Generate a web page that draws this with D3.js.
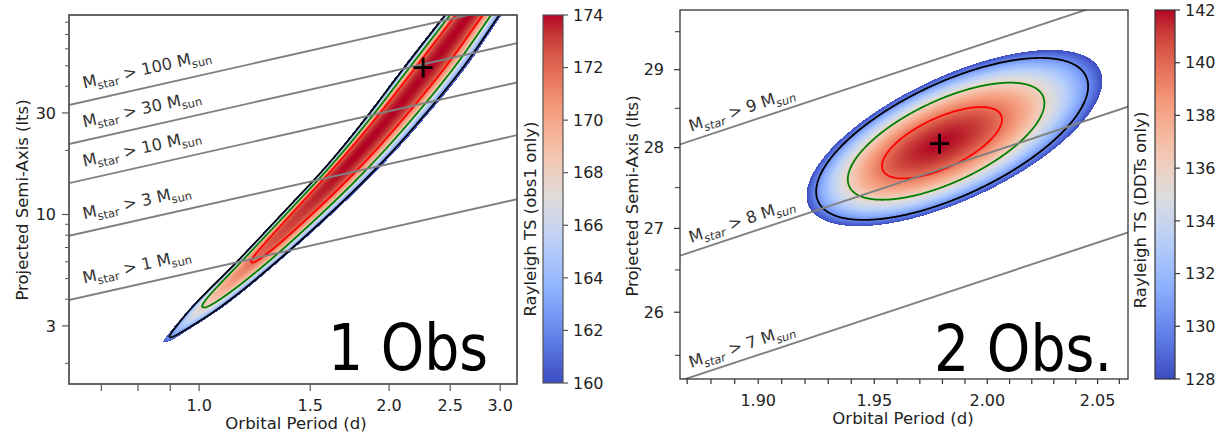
<!DOCTYPE html>
<html>
<head>
<meta charset="utf-8">
<script src="https://cdn.jsdelivr.net/npm/d3@7"></script>
<style>
  body { margin: 0; background: #fff; }
  svg { display: block; }
  text { font-family: "DejaVu Sans", sans-serif; }
</style>
</head>
<body>
<svg id="chart" width="1216" height="437"></svg>
<script>
// ---------------- single observation (obs1) ----------------
const obs1PeriodRange = [0.622, 3.19];
const obs1AxisRange = [1.6, 86.5];
const obs1PeriodTicks = [1.0, 1.5, 2.0, 2.5, 3.0];
const obs1PeriodMinor = [0.7, 0.8, 0.9];
const obs1AxisTicks = [3, 10, 30];
const obs1AxisMinor = [2, 4, 5, 6, 7, 8, 9, 20, 40, 50, 60, 70, 80];
const obs1ColorTicks = [160, 162, 164, 166, 168, 170, 172, 174];
const obs1Best = { period: 2.265, axis: 49.0, ts: 174 };
// ridge of the likelihood band: semi-axis, period on the ridge,
// widths (dex in period, below / above the ridge) and TS drop on the ridge
const obs1RidgeAxis   = [86.9, 49.0, 27.9, 17.2, 10.6, 5.95, 3.66, 2.65, 2.48];
const obs1RidgePeriod = [2.689, 2.329, 1.995, 1.727, 1.479, 1.217, 1.020, 0.9013, 0.8777];
const obs1RidgeSigLo  = [0.01710, 0.01841, 0.01644, 0.01447, 0.01401, 0.01256, 0.01119, 0.00612, 0.0048];
const obs1RidgeSigHi  = [0.01355, 0.01482, 0.01482, 0.01440, 0.01342, 0.01158, 0.01020, 0.00645, 0.0055];
const obs1RidgeDrop   = [0, 0, 0, 0, 0.6, 2.3, 6.18, 11.83, 14.5];
// minimum companion mass lines: semi-axis at both ends of the period range
const obs1Masses = ["100", "30", "10", "3", "1"];
const obs1MassAxis = [[32.7, 97.3], [21.45, 63.8], [14.04, 41.7], [7.95, 23.6], [3.97, 11.8]];

// ---------------- two observations (DDTs) ----------------
const obs2PeriodRange = [1.867, 2.064];
const obs2AxisRange = [25.23, 29.79];
const obs2PeriodTicks = [1.90, 1.95, 2.00, 2.05];
const obs2PeriodMinor = [1.87, 1.88, 1.89, 1.91, 1.92, 1.93, 1.94, 1.96, 1.97, 1.98, 1.99, 2.01, 2.02, 2.03, 2.04, 2.06];
const obs2AxisTicks = [26, 27, 28, 29];
const obs2AxisMinor = [25.5, 26.5, 27.5, 28.5, 29.5];
const obs2ColorTicks = [128, 130, 132, 134, 136, 138, 140, 142];
const obs2Best = { period: 1.9787, axis: 28.05, ts: 142 };
const obs2Sigma = { logPeriod: 0.003845, logAxis: 0.004605, rho: 0.65 };
const obs2Skew = [0.027, 0.017];
const obs2Masses = ["9", "8", "7"];
const obs2MassAxis = [[28.04, 29.98], [26.67, 28.52], [25.21, 26.95]];

// TS drops drawn as contours (black, green, red) and the lowest TS shown
const contourDrops = [11.83, 6.18, 2.30];
const contourColors = ["#000000", "#008000", "#ff0000"];
const shownDrop = 14;

// matplotlib "coolwarm"
const coolwarmStops = ["#3b4cc0", "#6282ea", "#8db0fe", "#b8d0f9", "#dddcdc", "#f5c4ad", "#f49a7b", "#de604d", "#b40426"];
const coolwarm = d3.scaleLinear()
  .domain(coolwarmStops.map((_, i) => i / (coolwarmStops.length - 1)))
  .range(coolwarmStops)
  .interpolate(d3.interpolateLab)
  .clamp(true);

const svg = d3.select("#chart");
const defs = svg.append("defs");

// cubic Hermite interpolation through (xs, ys) with finite-difference slopes
function hermite(xs, ys) {
  const n = xs.length;
  const m = ys.map((_, k) => {
    if (k === 0) return (ys[1] - ys[0]) / (xs[1] - xs[0]);
    if (k === n - 1) return (ys[n - 1] - ys[n - 2]) / (xs[n - 1] - xs[n - 2]);
    return (ys[k + 1] - ys[k - 1]) / (xs[k + 1] - xs[k - 1]);
  });
  return v => {
    if (v <= xs[0]) return ys[0];
    if (v >= xs[n - 1]) return ys[n - 1];
    let k = 0;
    while (xs[k + 1] < v) k++;
    const h = xs[k + 1] - xs[k], t = (v - xs[k]) / h;
    const t2 = t * t, t3 = t2 * t;
    return (2 * t3 - 3 * t2 + 1) * ys[k] + (t3 - 2 * t2 + t) * h * m[k]
         + (-2 * t3 + 3 * t2) * ys[k + 1] + (t3 - t2) * h * m[k + 1];
  };
}

// TS drop across the band: steep (cubic) on the short-period side,
// quadratic on the long-period side, plus the drop along the ridge
function bandField(x, y) {
  const ry = obs1RidgeAxis.map(a => y(a));
  const rx = obs1RidgePeriod.map(p => x(p));
  const rl = obs1RidgePeriod.map((p, k) => x(p) - x(p * Math.pow(10, -obs1RidgeSigLo[k])));
  const rr = obs1RidgePeriod.map((p, k) => x(p * Math.pow(10, obs1RidgeSigHi[k])) - x(p));
  const fx = hermite(ry, rx), fl = hermite(ry, rl), fr = hermite(ry, rr), fh = hermite(ry, obs1RidgeDrop);
  const yEnd = ry[ry.length - 1];
  return (px, py) => {
    if (py >= yEnd) return 99;
    const xc = fx(py);
    if (px < xc) {
      const d = (xc - px) / fl(py);
      return d * d * d + fh(py);
    }
    const d = (px - xc) / fr(py);
    return d * d + fh(py);
  };
}

function ellipseField(x, y) {
  const lp0 = Math.log10(obs2Best.period), la0 = Math.log10(obs2Best.axis);
  const { logPeriod: su, logAxis: sv, rho } = obs2Sigma;
  const q = (u, v) => (u * u - 2 * rho * u * v + v * v) / (1 - rho * rho);
  return (px, py) => {
    const U = (Math.log10(x.invert(px)) - lp0) / su;
    const V = (Math.log10(y.invert(py)) - la0) / sv;
    const f = D => q(U - D * obs2Skew[0], V - D * obs2Skew[1]) - D;
    let lo = 0, hi = 40;
    if (f(hi) > 0) return hi;
    for (let it = 0; it < 32; it++) {
      const mid = (lo + hi) / 2;
      if (f(mid) > 0) lo = mid; else hi = mid;
    }
    return (lo + hi) / 2;
  };
}

function drawPanel(c) {
  const [L, T, R, B] = c.box;
  const x = d3.scaleLog().domain(c.periodRange).range([L, R]);
  const y = d3.scaleLog().domain(c.axisRange).range([B, T]);
  const tsMin = c.tsMax - shownDrop;

  defs.append("clipPath").attr("id", c.id + "-clip")
    .append("rect").attr("x", L).attr("y", T).attr("width", R - L).attr("height", B - T);
  const plot = svg.append("g").attr("clip-path", `url(#${c.id}-clip)`);

  // TS surface sampled on the pixel grid, with a margin round the axes
  const m = 4, gw = R - L + 2 * m, gh = B - T + 2 * m;
  const field = c.field(x, y);
  const ts = new Array(gw * gh);
  const canvas = document.createElement("canvas");
  canvas.width = gw; canvas.height = gh;
  const ctx = canvas.getContext("2d");
  const img = ctx.createImageData(gw, gh);
  for (let j = 0; j < gh; j++) {
    const py = T - m + j + 0.5;
    for (let i = 0; i < gw; i++) {
      const px = L - m + i + 0.5;
      const drop = field(px, py);
      const v = c.tsMax - drop;
      const idx = j * gw + i;
      ts[idx] = v;
      if (drop <= shownDrop) {
        const col = d3.rgb(coolwarm((v - tsMin) / shownDrop));
        img.data[4 * idx] = col.r;
        img.data[4 * idx + 1] = col.g;
        img.data[4 * idx + 2] = col.b;
        img.data[4 * idx + 3] = 255;
      }
    }
  }
  ctx.putImageData(img, 0, 0);
  plot.append("image")
    .attr("x", L - m).attr("y", T - m).attr("width", gw).attr("height", gh)
    .attr("href", canvas.toDataURL());

  const contours = d3.contours().size([gw, gh])
    .thresholds(contourDrops.map(d => c.tsMax - d))(ts);
  plot.append("g").attr("transform", `translate(${L - m},${T - m})`)
    .selectAll("path").data(contours).join("path")
    .attr("d", d3.geoPath())
    .attr("fill", "none")
    .attr("stroke", (d, i) => contourColors[i])
    .attr("stroke-width", 1.8)
    .attr("stroke-linejoin", "round");

  // companion-mass lines
  const line = d3.line().x(d => x(d[0])).y(d => y(d[1]));
  c.massAxis.forEach(ends => {
    plot.append("path")
      .attr("d", line([[c.periodRange[0], ends[0]], [c.periodRange[1], ends[1]]]))
      .attr("fill", "none").attr("stroke", "#808080").attr("stroke-width", 1.9);
  });

  // line labels
  c.masses.forEach((mass, k) => {
    const ends = c.massAxis[k];
    const x0 = x(c.periodRange[0]), y0 = y(ends[0]);
    const x1 = x(c.periodRange[1]), y1 = y(ends[1]);
    const ang = Math.atan2(y1 - y0, x1 - x0) * 180 / Math.PI;
    const sx = L + c.labelDx;
    const sy = y0 + (y1 - y0) * (sx - x0) / (x1 - x0) - c.labelDy;
    const t = plot.append("text")
      .attr("transform", `translate(${sx},${sy}) rotate(${ang})`)
      .attr("font-size", 16.3).attr("fill", "#333");
    t.append("tspan").text("M");
    t.append("tspan").text("star").attr("font-size", 11.5).attr("dy", 4)
      .attr("font-style", c.italicSub ? "italic" : null);
    t.append("tspan").text(` > ${mass} M`).attr("dy", -4);
    t.append("tspan").text("sun").attr("font-size", 11.5).attr("dy", 4)
      .attr("font-style", c.italicSub ? "italic" : null);
  });

  // best-fit marker
  svg.append("path")
    .attr("transform", `translate(${x(c.best.period)},${y(c.best.axis)})`)
    .attr("d", "M-9.5,0H9.5M0,-10V10")
    .attr("stroke", "#000").attr("stroke-width", 2.8);

  // panel tag
  svg.append("text").attr("x", c.tag.x).attr("y", c.tag.y)
    .attr("font-family", "Lato, 'Open Sans', sans-serif")
    .attr("font-weight", 400).attr("font-size", 64)
    .attr("textLength", c.tag.width).attr("lengthAdjust", "spacingAndGlyphs")
    .attr("fill", "#000").text(c.tag.text);

  // axes
  const ax = svg.append("g").attr("stroke", c.frameColor).attr("fill", "none");
  const xMinor = c.xMinor.concat(c.xTicks);
  ax.selectAll(".xt").data(xMinor).join("line")
    .attr("x1", d => x(d)).attr("x2", d => x(d))
    .attr("y1", B).attr("y2", B + c.xTickLen)
    .attr("stroke-width", 1.2);
  ax.selectAll(".yt").data(c.yTicks).join("line")
    .attr("x1", L).attr("x2", L - c.yTickLen)
    .attr("y1", d => y(d)).attr("y2", d => y(d)).attr("stroke-width", 1.2);
  ax.selectAll(".ym").data(c.yMinor).join("line")
    .attr("x1", L).attr("x2", L - c.yMinorLen)
    .attr("y1", d => y(d)).attr("y2", d => y(d)).attr("stroke-width", 1);
  ax.append("rect").attr("x", L).attr("y", T).attr("width", R - L).attr("height", B - T)
    .attr("stroke-width", c.frameWidth);

  const lab = svg.append("g").attr("fill", "#222").attr("font-size", 16);
  lab.selectAll(".xl").data(c.xTicks).join("text")
    .attr("x", d => x(d)).attr("y", B + 27).attr("text-anchor", "middle")
    .text(d => d3.format(c.xFormat)(d));
  lab.selectAll(".yl").data(c.yTicks).join("text")
    .attr("x", L - c.yLabelGap).attr("y", d => y(d)).attr("dy", "0.36em")
    .attr("text-anchor", "end").text(d => d);
  lab.append("text").attr("x", (L + R) / 2 + c.xTitleDx).attr("y", B + 45)
    .attr("text-anchor", "middle").attr("font-size", 16.5).text("Orbital Period (d)");
  lab.append("text")
    .attr("transform", `translate(${c.yTitle[0]},${c.yTitle[1]}) rotate(-90)`)
    .attr("text-anchor", "middle").attr("dy", "0.36em").attr("font-size", 16.5)
    .text("Projected Semi-Axis (lts)");

  // colour bar
  const [cL, cT, cR, cB] = c.cbar;
  const gid = c.id + "-grad";
  const grad = defs.append("linearGradient").attr("id", gid)
    .attr("x1", 0).attr("y1", 1).attr("x2", 0).attr("y2", 0);
  d3.range(0, 1.0001, 0.05).forEach(t => {
    grad.append("stop").attr("offset", t).attr("stop-color", coolwarm(t));
  });
  svg.append("rect").attr("x", cL).attr("y", cT).attr("width", cR - cL).attr("height", cB - cT)
    .attr("fill", `url(#${gid})`).attr("stroke", c.frameColor).attr("stroke-width", 1.2);
  const cy = d3.scaleLinear().domain([tsMin, c.tsMax]).range([cB, cT]);
  svg.append("g").selectAll("line").data(c.cTicks).join("line")
    .attr("x1", cR).attr("x2", cR + 5).attr("y1", d => cy(d)).attr("y2", d => cy(d))
    .attr("stroke", c.frameColor).attr("stroke-width", 1.2);
  lab.selectAll(".cl").data(c.cTicks).join("text")
    .attr("x", cR + 10).attr("y", d => cy(d)).attr("dy", "0.36em").text(d => d);
  lab.append("text")
    .attr("transform", `translate(${c.cTitle[0]},${c.cTitle[1]}) rotate(-90)`)
    .attr("text-anchor", "middle").attr("dy", "0.36em").attr("font-size", 16.5)
    .text(c.cTitle[2]);
}

drawPanel({
  id: "obs1", box: [69, 15, 517, 384],
  periodRange: obs1PeriodRange, axisRange: obs1AxisRange,
  tsMax: obs1Best.ts, best: obs1Best, field: bandField,
  masses: obs1Masses, massAxis: obs1MassAxis, labelDx: 15, labelDy: 13, italicSub: false,
  xTicks: obs1PeriodTicks, xMinor: obs1PeriodMinor, xFormat: ".1f",
  yTicks: obs1AxisTicks, yMinor: obs1AxisMinor,
  xTickLen: 7, yTickLen: 7, yMinorLen: 4, yLabelGap: 13, xTitleDx: 3,
  frameColor: "#555", frameWidth: 1.8,
  yTitle: [22, 200],
  tag: { x: 328, y: 370, text: "1 Obs", width: 160 },
  cbar: [543, 15, 563, 383], cTicks: obs1ColorTicks,
  cTitle: [530, 219, "Rayleigh TS (obs1 only)"]
});

drawPanel({
  id: "obs2", box: [680, 10, 1128, 379],
  periodRange: obs2PeriodRange, axisRange: obs2AxisRange,
  tsMax: obs2Best.ts, best: obs2Best, field: ellipseField,
  masses: obs2Masses, massAxis: obs2MassAxis, labelDx: 11, labelDy: 9, italicSub: true,
  xTicks: obs2PeriodTicks, xMinor: obs2PeriodMinor, xFormat: ".2f",
  yTicks: obs2AxisTicks, yMinor: obs2AxisMinor,
  xTickLen: 5, yTickLen: 6, yMinorLen: 5, yLabelGap: 16, xTitleDx: -1,
  frameColor: "#333", frameWidth: 1.3,
  yTitle: [632, 196],
  tag: { x: 934, y: 371, text: "2 Obs.", width: 178 },
  cbar: [1155, 10, 1175, 379], cTicks: obs2ColorTicks,
  cTitle: [1140, 210, "Rayleigh TS (DDTs only)"]
});
</script>
</body>
</html>
